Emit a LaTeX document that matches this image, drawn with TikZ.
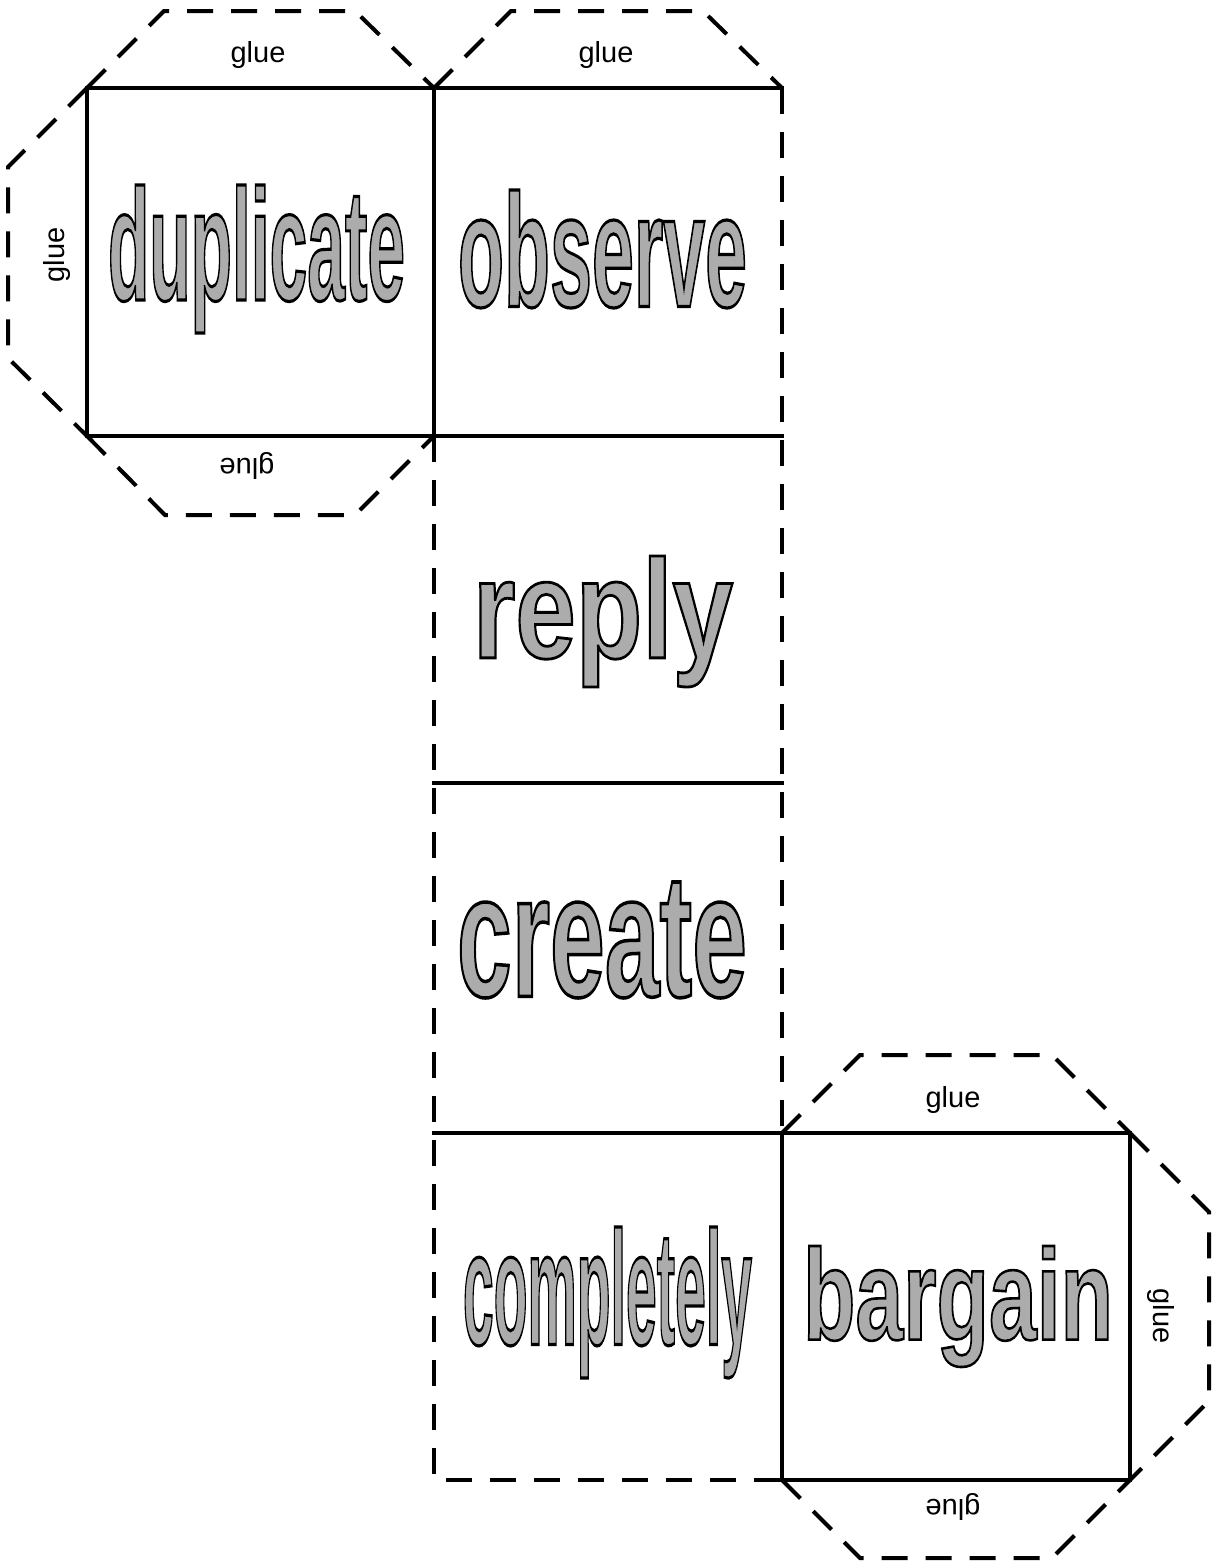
\documentclass[tikz,border=0pt]{standalone}
\usepackage{fontspec}
\setmainfont{Liberation Sans}
\usepackage{graphicx}
\definecolor{wordgray}{RGB}{172,172,172}
\newcommand{\outlined}[1]{\special{pdf:literal direct 0 G 2 Tr 0.8 w}#1\special{pdf:literal direct 0 Tr}}
\tikzstyle{fold} = [line width=4pt, line cap=rect]
\tikzstyle{cut} = [line width=4pt, dash pattern=on 26pt off 18pt]
\tikzstyle{word} = [inner sep=0pt, text=wordgray, font=\bfseries\fontsize{40}{40}\selectfont]
\tikzstyle{gluetext} = [inner sep=0pt, font=\fontsize{29}{29}\selectfont]

\begin{document}
\begin{tikzpicture}[x=1pt, y=-1pt]

\useasboundingbox (0,0) rectangle (1215,1564);

% corners of the faces
\coordinate (p11) at (87,88);
\coordinate (p12) at (434,88);
\coordinate (p13) at (782,88);
\coordinate (p21) at (87,436);
\coordinate (p22) at (434,436);
\coordinate (p23) at (782,436);
\coordinate (p32) at (434,783);
\coordinate (p33) at (782,783);
\coordinate (p42) at (434,1133);
\coordinate (p43) at (782,1133);
\coordinate (p44) at (1130,1133);
\coordinate (p52) at (434,1480);
\coordinate (p53) at (782,1480);
\coordinate (p54) at (1130,1480);

% folds
\draw [fold] (p11) rectangle (p22);
\draw [fold] (p12) -- (p13);
\draw [fold] (p22) -- (p23);
\draw [fold] (p32) -- (p33);
\draw [fold] (p42) -- (p43);
\draw [fold] (p43) rectangle (p54);

% cut lines
\draw [cut] (p13) -- (p23) -- (p33) -- (p43);
\draw [cut] (p22) -- (p32) -- (p42) -- (p52) -- (p53);

% glue tabs
\draw [cut] (p11) -- ++(77,-77) -- ++(191,0) -- (p12);
\draw [cut] (p12) -- ++(77,-77) -- ++(192,0) -- (p13);
\draw [cut] (p11) -- ++(-79,79) -- ++(0,191) -- (p21);
\draw [cut] (p21) -- ++(78,79) -- ++(190,0) -- (p22);
\draw [cut] (p43) -- ++(78,-78) -- ++(192,0) -- (p44);
\draw [cut] (p44) -- ++(79,79) -- ++(0,189) -- (p54);
\draw [cut] (p53) -- ++(78,78) -- ++(192,0) -- (p54);

\node (glue1) [gluetext] at (258,55) {glue};
\node (glue2) [gluetext] at (606,55) {glue};
\node (glue3) [gluetext, rotate=90] at (57,255) {glue};
\node (glue4) [gluetext, rotate=180] at (247,466) {glue};
\node (glue5) [gluetext] at (953,1100) {glue};
\node (glue6) [gluetext, rotate=-90] at (1161,1316) {glue};
\node (glue7) [gluetext, rotate=180] at (953,1507) {glue};

% words
\node (duplicate) [word] at (256.5,259) {\resizebox*{297pt}{148pt}{\outlined{duplicate}}};
\node (observe) [word] at (602.5,249) {\resizebox*{289pt}{118pt}{\outlined{observe}}};
\node (reply) [word] at (603,621.5) {\resizebox*{260pt}{131pt}{\outlined{reply}}};
\node (create) [word] at (602,940) {\resizebox*{290pt}{116pt}{\outlined{create}}};
\node (completely) [word] at (607.5,1302.5) {\resizebox*{289pt}{151pt}{\outlined{completely}}};
\node (bargain) [word] at (958,1306.5) {\resizebox*{310pt}{121pt}{\outlined{bargain}}};

\end{tikzpicture}
\end{document}
